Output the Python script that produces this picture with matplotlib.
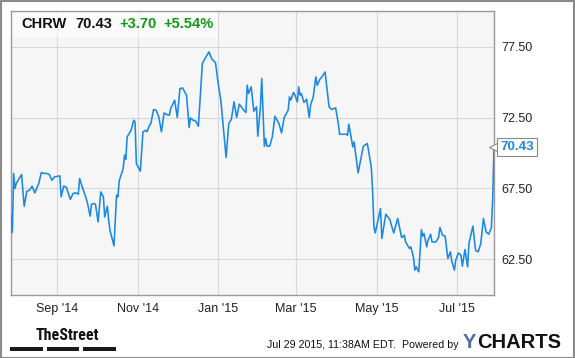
import matplotlib
matplotlib.use("Agg")
import matplotlib.pyplot as plt
from matplotlib.patches import Rectangle
from matplotlib import font_manager
import pandas as pd

# ---------------- data ----------------
start_date = "2014-07-29"
day_offsets = [-1, 0, 1, 2, 3, 7, 9, 11, 13, 15,
               17, 20, 22, 24, 26, 28, 30, 32, 36, 37,
               39, 41, 44, 46, 48, 50, 51, 53, 56, 57,
               59, 60, 62, 63, 65, 67, 69, 70, 72, 73,
               74, 77, 79, 80, 81, 84, 85, 86, 87, 90,
               92, 93, 94, 95, 97, 99, 101, 102, 104, 105,
               107, 109, 111, 113, 115, 117, 119, 120, 123, 125,
               127, 129, 132, 134, 135, 137, 139, 141, 144, 146,
               149, 151, 154, 156, 158, 162, 164, 166, 168, 170,
               172, 175, 177, 178, 179, 181, 183, 185, 186, 188,
               189, 191, 192, 193, 195, 197, 199, 202, 204, 206,
               209, 210, 211, 213, 214, 216, 217, 218, 219, 221,
               223, 225, 226, 228, 230, 231, 233, 235, 237, 240,
               242, 245, 247, 248, 253, 254, 255, 258, 259, 262,
               266, 269, 272, 273, 274, 275, 279, 280, 283, 286,
               289, 292, 295, 297, 298, 301, 302, 304, 305, 306,
               308, 310, 311, 312, 314, 315, 317, 318, 321, 323,
               324, 326, 328, 330, 332, 333, 335, 336, 338, 340,
               341, 343, 345, 346, 349, 351, 353, 355, 357, 359,
               361, 363, 364, 365]
prices = [65.6, 64.4, 68.56, 67.5, 67.85, 68.49, 66.25, 67.31, 67.38, 67.66,
          67.19, 67.85, 68.63, 68.56, 68.56, 68.49, 68.08, 68.32, 68.39, 66.91,
          67.68, 67.57, 66.73, 67.15, 67.19, 67.1, 68.2, 67.61, 66.8, 66.44,
          65.55, 66.39, 66.44, 66.39, 65.15, 67.26, 66.91, 65.5, 66.25, 65.27,
          64.56, 63.46, 67.03, 66.91, 68.04, 68.9, 69.85, 69.56, 71.13, 71.6,
          72.31, 72.19, 69.26, 69.07, 68.72, 71.49, 71.6, 71.49, 71.96, 72.08,
          73.06, 73.01, 72.54, 71.49, 72.82, 72.71, 72.66, 73.13, 73.72, 72.5,
          74.54, 74.58, 74.07, 71.8, 72.47, 72.31, 72.24, 71.89, 76.3, 76.65,
          77.12, 76.65, 76.34, 74.89, 73.72, 69.68, 72.08, 72.38, 73.6, 72.5,
          73.44, 73.06, 72.85, 74.77, 74.19, 74.66, 72.94, 73.25, 71.18, 73.25,
          75.25, 70.48, 71.02, 70.48, 70.48, 71.13, 72.59, 72.08, 71.42, 72.5,
          73.01, 73.95, 73.72, 74.26, 74.12, 73.6, 74.66, 74.07, 74.19, 73.56,
          73.79, 72.5, 73.37, 73.95, 75.36, 74.77, 75.18, 75.41, 75.71, 73.25,
          73.06, 73.18, 72.08, 71.32, 71.32, 71.25, 72.03, 70.43, 70.78, 68.6,
          70.48, 70.67, 69.02, 67.38, 64.8, 64.37, 66.09, 63.98, 65.69, 65.32,
          64.37, 65.39, 64.05, 64.21, 63.74, 63.27, 63.39, 62.64, 61.75, 61.98,
          61.63, 64.6, 64.14, 64.33, 63.39, 63.86, 64.28, 63.74, 63.74, 64.05,
          64.75, 64.21, 64.14, 62.57, 63.04, 62.38, 61.75, 62.45, 62.96, 62.8,
          62.03, 63.2, 61.98, 63.63, 64.85, 63.15, 63.04, 63.63, 65.39, 64.44,
          64.28, 64.75, 66.73, 70.43]

x_tick_dates = ["2014-09-01", "2014-11-01", "2015-01-01", "2015-03-01", "2015-05-01", "2015-07-01"]
x_tick_labels = ["Sep '14", "Nov '14", "Jan '15", "Mar '15", "May '15", "Jul '15"]
y_ticks = [62.5, 67.5, 72.5, 77.5]
y_tick_labels = ["62.50", "67.50", "72.50", "77.50"]

ticker_symbol = "CHRW"
last_price = "70.43"
change = "+3.70"
change_pct = "+5.54%"
timestamp = "Jul 29 2015, 11:38AM EDT.  Powered by"

# ---------------- fonts ----------------
avail = {f.name for f in font_manager.fontManager.ttflist}
base_font = "Liberation Sans" if "Liberation Sans" in avail else "DejaVu Sans"
narrow_font = None
for cand in ["Liberation Sans Narrow", "Roboto Condensed", "Open Sans Condensed", "Arial Narrow"]:
    if cand in avail:
        narrow_font = cand
        break
plt.rcParams['font.family'] = [base_font, 'DejaVu Sans']

W, H = 575, 358
fig = plt.figure(figsize=(W / 100, H / 100), dpi=100)
fig.patch.set_facecolor("white")

def fx(px):
    return px / W

def fy(py):
    return 1 - py / H

ax_l, ax_r, ax_t, ax_b = 11, 494, 11, 295
ax = fig.add_axes([fx(ax_l), fy(ax_b), (ax_r - ax_l) / W, (ax_b - ax_t) / H])
ax.set_facecolor("#f6f6f6")

dates = pd.to_datetime(start_date) + pd.to_timedelta(day_offsets, unit="D")
line_color = "#1a88e6"
ax.plot(dates, prices, color=line_color, lw=1.15, solid_joinstyle="round", zorder=3)

ax.set_xlim(pd.to_datetime("2014-07-28"), pd.to_datetime("2015-07-29"))
ax.set_ylim(60, 80)

ax.set_xticks(pd.to_datetime(x_tick_dates))
ax.set_xticklabels(x_tick_labels)
ax.set_yticks(y_ticks)
ax.set_yticklabels(y_tick_labels)
ax.yaxis.tick_right()
ax.tick_params(axis="both", length=0, labelsize=9, colors="#222222")
ax.tick_params(axis="y", pad=5)
ax.tick_params(axis="x", pad=6)
ax.grid(True, color="#d8d8d8", lw=0.8, zorder=1)
ax.set_axisbelow(True)
for s in ax.spines.values():
    s.set_color("#9a9a9a")
    s.set_linewidth(1.0)

# header band
ax.add_patch(Rectangle((0, (ax_b - 37) / (ax_b - ax_t)), (218 - ax_l) / (ax_r - ax_l),
                       1 - (ax_b - 37) / (ax_b - ax_t), transform=ax.transAxes,
                       facecolor="white", alpha=0.6, edgecolor="none", zorder=2))
hy = fy(24)
fig.text(fx(21.5), hy, ticker_symbol, fontsize=10.5, fontweight="bold", color="#111111", va="center")
fig.text(fx(75), hy, last_price, fontsize=10.5, fontweight="bold", color="#111111", va="center")
fig.text(fx(119), hy, change, fontsize=10.5, fontweight="bold", color="#119911", va="center")
fig.text(fx(163), hy, change_pct, fontsize=10.5, fontweight="bold", color="#119911", va="center")

# last value label
ax.plot([dates[-1]], [prices[-1]], marker="<", ms=6.5, mfc="white", mec="#888888", mew=0.8,
        clip_on=False, zorder=4)
ax.annotate(last_price, xy=(dates[-1], prices[-1]), xytext=(4.5, 0), textcoords="offset points",
            fontsize=9.5, fontweight="bold", color=line_color, va="center", ha="left",
            annotation_clip=False, zorder=5,
            bbox=dict(boxstyle="square,pad=0.25", fc="white", ec="#888888", lw=0.8))

# footer
if narrow_font:
    fig.text(fx(36), fy(336), "TheStreet", fontsize=11.5, fontweight="bold",
             family=[narrow_font, 'DejaVu Sans'], color="#111111", va="center", ha="left")
else:
    fig.text(fx(36), fy(336), "TheStreet", fontsize=9.2, fontweight="bold",
             color="#111111", va="center", ha="left")
for bx0, bx1 in [(10, 42.7), (46.7, 79.3), (83.3, 116)]:
    fig.patches.append(Rectangle((fx(bx0), fy(350.7)), (bx1 - bx0) / W, 4 / H,
                                 transform=fig.transFigure, facecolor="#1a1a1a", edgecolor="none"))
fig.text(fx(459), fy(345), timestamp, fontsize=7.65, color="#111111", va="center", ha="right")
t1 = fig.text(fx(463), fy(342), "Y", fontsize=14.5, fontweight="bold", color="#4f6f9f",
              va="center", ha="left")
ax.annotate("CHARTS", xy=(1.0, 0.5), xycoords=t1, xytext=(0.3, 0), textcoords="offset points",
            fontsize=14.5, fontweight="bold", color="#111111", va="center", ha="left",
            annotation_clip=False)

# outer frame
fig.patches.append(Rectangle((0.5 / W, 0.5 / H), 1 - 1.5 / W, 1 - 1.5 / H, transform=fig.transFigure,
                             facecolor="none", edgecolor="#8a8a8a", lw=1.5))

fig.savefig("out.png", dpi=100)
